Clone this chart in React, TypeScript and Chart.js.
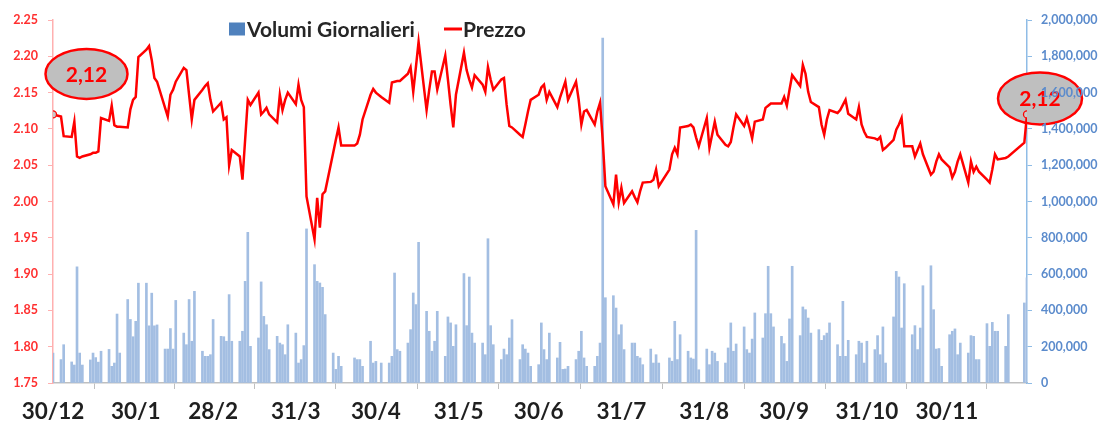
import React, { useEffect, useRef } from "react";
import { Chart, registerables } from "chart.js";

Chart.register(...registerables);

// Calendar (x axis is a date axis: day offsets from 30/12/2013)
const START_DATE = "2013-12-30";
const END_DATE = "2014-12-30";
const HOLIDAYS = [
  "2013-12-31", "2014-01-01", "2014-04-18", "2014-04-21", "2014-05-01",
  "2014-08-15", "2014-12-24", "2014-12-25", "2014-12-26",
];
const TICK_DATES = [
  "2013-12-30", "2014-01-30", "2014-02-28", "2014-03-31", "2014-04-30", "2014-05-31",
  "2014-06-30", "2014-07-31", "2014-08-31", "2014-09-30", "2014-10-31", "2014-11-30",
];
const TICK_LABELS = [
  "30/12", "30/1", "28/2", "31/3", "30/4", "31/5", "30/6", "31/7", "31/8", "30/9", "31/10", "30/11",
];

// Prezzo (EUR), one per trading day
const PRICES = [
  2.120, 2.117, 2.090,
  2.089, 2.110, 2.062, 2.060, 2.062,
  2.065, 2.067, 2.067, 2.069, 2.115,
  2.111, 2.132, 2.105, 2.103, 2.103,
  2.102, 2.127, 2.140, 2.144, 2.199,
  2.209, 2.214, 2.195, 2.170, 2.165,
  2.129, 2.117, 2.147, 2.154, 2.165,
  2.184, 2.181, 2.147, 2.113, 2.140,
  2.154, 2.159, 2.163, 2.140, 2.124,
  2.136, 2.113, 2.116, 2.050, 2.071,
  2.062, 2.030, 2.085, 2.140, 2.133,
  2.150, 2.120, 2.124, 2.129, 2.120,
  2.109, 2.147, 2.126, 2.140, 2.150,
  2.134, 2.161, 2.140, 2.130, 2.007,
  1.948, 2.005, 1.964, 2.010, 2.014,
  2.067, 2.085, 2.102, 2.077,
  2.077, 2.080, 2.092, 2.113,
  2.147, 2.155, 2.150, 2.144,
  2.136, 2.164, 2.165, 2.166, 2.166,
  2.176, 2.185, 2.151, 2.185, 2.220,
  2.126, 2.154, 2.179, 2.179, 2.154,
  2.201, 2.168, 2.133, 2.102, 2.147,
  2.205, 2.181, 2.168, 2.157, 2.174,
  2.161, 2.151, 2.185, 2.168, 2.154,
  2.168, 2.170, 2.133, 2.104, 2.102,
  2.092, 2.089, 2.106, 2.124, 2.140,
  2.147, 2.157, 2.161, 2.140, 2.151,
  2.130, 2.143, 2.154, 2.165, 2.140,
  2.165, 2.140, 2.106, 2.124, 2.126,
  2.106, 2.124, 2.136, 2.085, 2.021,
  1.996, 2.037, 1.999, 2.019, 1.998,
  2.014, 2.006, 1.999, 2.014, 2.026,
  2.027, 2.030, 2.044, 2.021,
  2.044, 2.065, 2.074, 2.065, 2.102,
  2.104, 2.106, 2.102, 2.088, 2.076,
  2.115, 2.074, 2.092, 2.110, 2.092,
  2.078, 2.076, 2.082, 2.102, 2.120,
  2.104, 2.115, 2.102, 2.087, 2.110,
  2.113, 2.129, 2.132, 2.135, 2.135,
  2.135, 2.144, 2.132, 2.154, 2.174,
  2.159, 2.188, 2.176, 2.151, 2.137,
  2.130, 2.106, 2.092, 2.113, 2.126,
  2.122, 2.126, 2.133, 2.140, 2.121,
  2.113, 2.130, 2.106, 2.096, 2.089,
  2.087, 2.085, 2.089, 2.071, 2.074,
  2.085, 2.099, 2.106, 2.115, 2.076,
  2.076, 2.062, 2.071, 2.080, 2.065,
  2.037, 2.041, 2.055, 2.065, 2.058,
  2.047, 2.033, 2.041, 2.055, 2.065,
  2.026, 2.055, 2.041, 2.048, 2.041,
  2.030, 2.026, 2.044, 2.065, 2.058,
  2.060, 2.062,
  2.081, 2.120,
];

// Volumi Giornalieri, in thousands of shares, one per trading day
const VOLUMES_K = [
  165, 129, 211,
  116, 99, 640, 165, 99,
  127, 165, 140, 115, 175,
  185, 92, 110, 380, 165,
  460, 350, 255, 340, 550,
  550, 315, 495, 315, 320,
  187, 187, 300, 187, 455,
  275, 211, 460, 230, 505,
  175, 147, 147, 156, 350,
  257, 255, 230, 487, 230,
  230, 285, 560, 830, 202,
  248, 557, 367, 321, 184,
  257, 220, 211, 156, 321,
  275, 110, 129, 206, 849,
  652, 560, 551, 527, 377,
  165, 75, 147, 92,
  138, 129, 129, 92,
  230, 110, 119, 110,
  110, 147, 606, 184, 175,
  220, 294, 496, 432, 775,
  395, 285, 175, 230, 395,
  147, 364, 331, 202, 321,
  603, 316, 584, 275, 220,
  220, 156, 795, 316, 211,
  129, 187, 156, 248, 349,
  129, 211, 187, 165, 92,
  101, 331, 184, 129, 275,
  138, 224, 75, 77, 92,
  129, 175, 285, 138, 92,
  92, 147, 220, 1900, 470,
  481, 413, 266, 321, 184,
  220, 220, 147, 138, 101,
  187, 110, 156, 110,
  138, 120, 340, 129, 266,
  175, 138, 132, 841, 73,
  187, 101, 175, 165, 119,
  110, 193, 331, 175, 215,
  309, 184, 165, 242, 386,
  248, 382, 643, 382, 309,
  257, 217, 119, 353, 643,
  261, 419, 404, 358, 275,
  294, 235, 261, 275, 331,
  211, 147, 450, 147, 235,
  156, 230, 220, 110, 230,
  184, 261, 156, 309, 110,
  364, 615, 584, 303, 547,
  266, 316, 184, 303, 536,
  646, 404, 187, 190, 92,
  266, 285, 298, 156, 220,
  165, 261, 257, 129, 129,
  327, 202, 334, 285, 285,
  202, 377,
  441, 579,
];

const PRICE_MIN = 1.75;
const PRICE_MAX = 2.25;
const PRICE_STEP = 0.05;
const VOL_MIN = 0;
const VOL_MAX = 2000000;
const VOL_STEP = 200000;

const DAY_MS = 86400000;
const toUTC = (s: string) => {
  const [y, m, d] = s.split("-").map(Number);
  return Date.UTC(y, m - 1, d);
};
const dayOffset = (s: string) => Math.round((toUTC(s) - toUTC(START_DATE)) / DAY_MS);

function tradingDays(): number[] {
  const out: number[] = [];
  const total = dayOffset(END_DATE);
  const hol = new Set(HOLIDAYS.map(dayOffset));
  for (let d = 0; d <= total; d++) {
    const dow = new Date(toUTC(START_DATE) + d * DAY_MS).getUTCDay();
    if (dow === 0 || dow === 6 || hol.has(d)) continue;
    out.push(d);
  }
  return out;
}

const FONT = "Lato, 'Open Sans', 'DejaVu Sans', sans-serif";

export default function App() {
  const ref = useRef<HTMLCanvasElement | null>(null);

  useEffect(() => {
    if (!ref.current) return;
    const days = tradingDays();
    const n = Math.min(days.length, PRICES.length, VOLUMES_K.length);
    const priceData = days.slice(0, n).map((d, i) => ({ x: d, y: PRICES[i] }));
    const volData = days.slice(0, n).map((d, i) => ({ x: d, y: VOLUMES_K[i] * 1000 }));
    const tickDays = TICK_DATES.map(dayOffset);
    const labelFor = new Map(tickDays.map((d, i) => [d, TICK_LABELS[i]]));
    const endDay = dayOffset(END_DATE);

    const callout = (ctx: CanvasRenderingContext2D, cx: number, cy: number, rx: number, ry: number, text: string) => {
      ctx.save();
      ctx.beginPath();
      ctx.ellipse(cx, cy, rx, ry, 0, 0, Math.PI * 2);
      ctx.fillStyle = "#bfbfbf";
      ctx.fill();
      ctx.lineWidth = 2.5;
      ctx.strokeStyle = "#ff0000";
      ctx.stroke();
      ctx.fillStyle = "#ff0000";
      ctx.font = `bold 21px ${FONT}`;
      ctx.textAlign = "center";
      ctx.textBaseline = "middle";
      ctx.fillText(text, cx, cy + 1);
      ctx.restore();
    };

    const overlay = {
      id: "overlay",
      beforeDatasetsDraw(chart: any) {
        const ctx = chart.ctx as CanvasRenderingContext2D;
        const xs = chart.scales.x;
        const ys = chart.scales.yPrice;
        const fx = xs.getPixelForValue(priceData[0].x);
        const fy = ys.getPixelForValue(priceData[0].y);
        const lx = xs.getPixelForValue(priceData[n - 1].x);
        const ly = ys.getPixelForValue(priceData[n - 1].y);
        const fmt = (v: number) => v.toFixed(2).replace(".", ",");
        callout(ctx, fx + 33.5, fy - 40.5, 41, 25, fmt(priceData[0].y));
        callout(ctx, lx + 13, ly - 16, 42, 26, fmt(priceData[n - 1].y));
      },
      afterDraw(chart: any) {
        const ctx = chart.ctx as CanvasRenderingContext2D;
        const left = chart.chartArea.left + 176;
        const cy = chart.chartArea.top + 9;
        ctx.save();
        ctx.fillStyle = "#4f81bd";
        ctx.fillRect(left, cy - 6.5, 16, 13);
        ctx.font = `bold 21px ${FONT}`;
        ctx.fillStyle = "#262626";
        ctx.textBaseline = "middle";
        ctx.textAlign = "left";
        ctx.fillText("Volumi Giornalieri", left + 18, cy + 1);
        const lx = left + 215;
        ctx.strokeStyle = "#ff0000";
        ctx.lineWidth = 3;
        ctx.beginPath();
        ctx.moveTo(lx, cy);
        ctx.lineTo(lx + 18, cy);
        ctx.stroke();
        ctx.fillText("Prezzo", lx + 19, cy + 1);
        ctx.restore();
      },
    };

    const chart = new Chart(ref.current, {
      type: "bar",
      data: {
        datasets: [
          {
            type: "line",
            label: "Prezzo",
            data: priceData,
            yAxisID: "yPrice",
            borderColor: "#ff0000",
            borderWidth: 2.5,
            tension: 0,
            pointRadius: (c: any) => (c.dataIndex === 0 || c.dataIndex === n - 1 ? 3.5 : 0),
            pointBorderColor: "#ff0000",
            pointBackgroundColor: "#c9c9c9",
            pointBorderWidth: 1.3,
            order: 1,
          } as any,
          {
            type: "bar",
            label: "Volumi Giornalieri",
            data: volData,
            yAxisID: "yVol",
            backgroundColor: "#a3bee2",
            barThickness: 2,
            order: 2,
          } as any,
        ],
      },
      options: {
        animation: false,
        responsive: false,
        maintainAspectRatio: false,
        layout: { padding: { top: 20, left: 0, right: 0, bottom: 0 } },
        plugins: { legend: { display: false }, tooltip: { enabled: false } },
        scales: {
          x: {
            type: "linear",
            min: 0,
            max: endDay,
            offset: false,
            afterBuildTicks: (scale: any) => {
              scale.ticks = tickDays.map((v) => ({ value: v }));
            },
            afterFit: (scale: any) => {
              scale.height = 46;
            },
            ticks: {
              autoSkip: false,
              maxRotation: 0,
              minRotation: 0,
              padding: 9,
              color: "#1f1f1f",
              font: { family: FONT, size: 22.5, weight: "bold" },
              callback: (v: any) => labelFor.get(v) ?? "",
            },
            grid: { drawOnChartArea: false, drawTicks: true, tickLength: 6, color: "#bfbfbf" },
            border: { display: true, color: "#bfbfbf", width: 1.5 },
          },
          yPrice: {
            type: "linear",
            position: "left",
            min: PRICE_MIN,
            max: PRICE_MAX,
            afterFit: (scale: any) => {
              scale.width = 53;
            },
            ticks: {
              stepSize: PRICE_STEP,
              padding: 10,
              color: "#ff3030",
              font: { family: FONT, size: 12.5, weight: "bold" },
              callback: (v: any) => Number(v).toFixed(2),
            },
            grid: { drawOnChartArea: false, drawTicks: true, tickLength: 5, color: "#ffb0b0" },
            border: { display: true, color: "#ffb0b0", width: 1.5 },
          },
          yVol: {
            type: "linear",
            position: "right",
            min: VOL_MIN,
            max: VOL_MAX,
            afterFit: (scale: any) => {
              scale.width = 78;
            },
            ticks: {
              stepSize: VOL_STEP,
              padding: 9,
              z: 1,
              color: "#5b8bcc",
              font: { family: FONT, size: 12.5, weight: "bold" },
              callback: (v: any) => Number(v).toLocaleString("en-US"),
            },
            grid: { drawOnChartArea: false, drawTicks: true, tickLength: 5, color: "#8fbce6" },
            border: { display: true, color: "#8fbce6", width: 1.5 },
          },
        },
      } as any,
      plugins: [overlay],
    });
    return () => chart.destroy();
  }, []);

  return (
    <div style={{ position: "fixed", left: 0, top: 0, width: 1105, height: 429, background: "#ffffff" }}>
      <canvas ref={ref} width={1105} height={429} style={{ width: 1105, height: 429, display: "block" }} />
    </div>
  );
}
